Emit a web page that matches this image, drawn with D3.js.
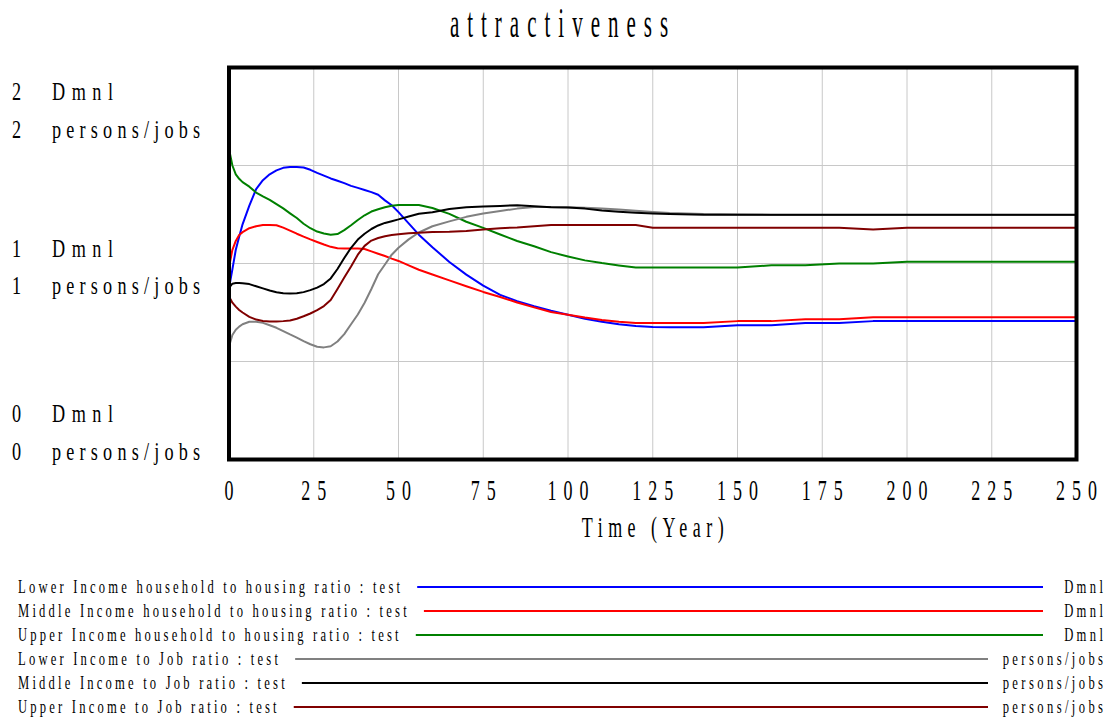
<!DOCTYPE html>
<html>
<head>
<meta charset="utf-8">
<script src="https://cdn.jsdelivr.net/npm/d3@7"></script>
<style>
  html, body { margin: 0; padding: 0; background: #fff; }
  svg { display: block; }
</style>
</head>
<body>
<svg id="chart" width="1107" height="719"></svg>
<script>
// ---------------- data ----------------
const chartTitle = "attractiveness";
const xAxisTitle = "Time (Year)";
const years = [0,1,2,3,4,6,8,10,12,14,16,18,20,22,24,26,28,30,32,34,36,38,40,42,44,46,48,50,53,56,60,65,70,75,80,85,90,95,100,105,110,115,120,125,130,140,150,160,170,180,190,200,210,220,230,240,250];

const lowerIncomeHousing = [0.875,0.97,1.07,1.136,1.2, 1.295,1.38,1.425,1.455,1.475,1.488,1.492,1.492, 1.49,1.478,1.462,1.448,1.434, 1.422,1.41,1.396,1.386,1.375, 1.364,1.351,1.322,1.297,1.262, 1.205,1.147,1.083,1.008,0.943, 0.887,0.84,0.808,0.782,0.759, 0.739,0.718,0.703,0.69,0.681, 0.676,0.675,0.675,0.685,0.685, 0.696,0.696,0.706,0.706,0.706, 0.706,0.706,0.706,0.706];
const middleIncomeHousing = [0.98,1.07,1.115,1.145,1.16, 1.18,1.19,1.196,1.197,1.195,1.183,1.168,1.152, 1.137,1.123,1.11,1.097,1.085, 1.078,1.077,1.077,1.077,1.074, 1.062,1.05,1.038,1.025,1.013, 0.99,0.968,0.944,0.914,0.884, 0.855,0.829,0.801,0.776,0.753, 0.738,0.724,0.712,0.703,0.696, 0.696,0.696,0.696,0.706,0.706, 0.716,0.716,0.726,0.726,0.726, 0.726,0.726,0.726,0.726];
const upperIncomeHousing = [1.585,1.5,1.455,1.432,1.415, 1.392,1.362,1.343,1.325,1.303,1.281,1.256,1.232, 1.203,1.18,1.163,1.153,1.147, 1.15,1.17,1.195,1.222,1.246, 1.265,1.277,1.287,1.295,1.298, 1.298,1.298,1.283,1.253,1.213, 1.182,1.148,1.115,1.088,1.058, 1.036,1.016,1.002,0.99,0.979, 0.979,0.979,0.979,0.979,0.991, 0.991,1.0,1.0,1.009,1.009, 1.009,1.009,1.009,1.009];
const lowerIncomeJob = [0.577,0.635,0.662,0.678,0.69, 0.703,0.703,0.697,0.685,0.672,0.655,0.638,0.622, 0.604,0.588,0.575,0.572,0.578, 0.602,0.64,0.69,0.74,0.8, 0.87,0.945,0.995,1.045,1.08, 1.123,1.158,1.19,1.215,1.238, 1.255,1.268,1.28,1.288,1.288, 1.287,1.285,1.28,1.275,1.269, 1.263,1.258,1.252,1.25,1.248, 1.247,1.247,1.247,1.247,1.247, 1.247,1.247,1.247,1.247];
const middleIncomeJob = [0.875,0.897,0.9,0.9,0.899, 0.895,0.884,0.873,0.862,0.853,0.848,0.847,0.848, 0.854,0.864,0.877,0.895,0.924, 0.972,1.028,1.08,1.122,1.152, 1.176,1.194,1.207,1.216,1.225, 1.24,1.254,1.262,1.278,1.287, 1.291,1.294,1.297,1.292,1.287, 1.286,1.28,1.27,1.264,1.259, 1.255,1.252,1.249,1.249,1.249, 1.249,1.249,1.249,1.249,1.249, 1.249,1.249,1.249,1.249];
const upperIncomeJob = [0.832,0.8,0.78,0.763,0.75, 0.728,0.714,0.707,0.704,0.704,0.706,0.709,0.718, 0.731,0.745,0.762,0.783,0.814, 0.87,0.928,0.985,1.045,1.09, 1.117,1.13,1.139,1.145,1.149, 1.154,1.157,1.161,1.162,1.166, 1.173,1.18,1.184,1.19,1.196, 1.196,1.196,1.196,1.196,1.196, 1.182,1.182,1.182,1.182,1.182, 1.182,1.182,1.174,1.182,1.182, 1.182,1.182,1.182,1.182];

const seriesNames = [
  "Lower Income household to housing ratio : test",
  "Middle Income household to housing ratio : test",
  "Upper Income household to housing ratio : test",
  "Lower Income to Job ratio : test",
  "Middle Income to Job ratio : test",
  "Upper Income to Job ratio : test"
];
const seriesUnits = ["Dmnl","Dmnl","Dmnl","persons/jobs","persons/jobs","persons/jobs"];
const seriesValues = [lowerIncomeHousing, middleIncomeHousing, upperIncomeHousing, lowerIncomeJob, middleIncomeJob, upperIncomeJob];
const xTicks = [0,25,50,75,100,125,150,175,200,225,250];
const yTicks = [0,1,2];
const yUnitLabels = ["Dmnl","persons/jobs"];

// ---------------- styles / layout ----------------
const colors = ["#0000ff","#ff0000","#008000","#808080","#000000","#800000"];
const FONT = "'Liberation Serif','Times New Roman',serif";
const svg = d3.select("#chart");
svg.append("rect").attr("width",1107).attr("height",719).attr("fill","#fff");

const plot = {left: 229, right: 1076.5, top: 67.5, bottom: 459.5};
const x = d3.scaleLinear().domain([0,250]).range([plot.left, plot.right]);
const y = d3.scaleLinear().domain([0,2]).range([plot.bottom, plot.top]);

function txt(sel, px, py, s, o) {
  let dx = 0;
  if (o.anchor === "middle") dx = o.ls/2;
  if (o.anchor === "end") dx = o.ls;
  return sel.append("text")
    .attr("transform", `translate(${px+dx},${py}) scale(${o.sx},1)`)
    .attr("text-anchor", o.anchor || "start")
    .attr("font-family", FONT)
    .attr("font-size", o.size)
    .attr("letter-spacing", o.ls / o.sx)
    .attr("fill", "#000")
    .text(s);
}

// title
txt(svg, 559, 37, chartTitle, {size: 42, sx: 0.5, ls: 8, anchor: "middle"});

// gridlines
const grid = svg.append("g");
grid.selectAll("line.v").data(xTicks.slice(1,-1)).join("line")
  .attr("x1", d => x(d)).attr("x2", d => x(d))
  .attr("y1", plot.top).attr("y2", plot.bottom)
  .attr("stroke", "#c8c8c8").attr("stroke-width", 1);
grid.selectAll("line.h").data([0.5,1,1.5]).join("line")
  .attr("y1", d => y(d)).attr("y2", d => y(d))
  .attr("x1", plot.left).attr("x2", plot.right)
  .attr("stroke", "#c8c8c8").attr("stroke-width", 1);

// series lines
svg.append("clipPath").attr("id","clip").append("rect")
  .attr("x", plot.left).attr("y", plot.top)
  .attr("width", plot.right - plot.left).attr("height", plot.bottom - plot.top);
const line = d3.line().x((d,i) => x(years[i])).y(d => y(d));
const lines = svg.append("g").attr("clip-path","url(#clip)");
seriesValues.forEach((vals, k) => {
  lines.append("path").datum(vals)
    .attr("d", line).attr("fill","none")
    .attr("stroke", colors[k]).attr("stroke-width", 2)
    .attr("stroke-linejoin","round");
});

// frame
svg.append("rect")
  .attr("x", plot.left).attr("y", plot.top)
  .attr("width", plot.right - plot.left).attr("height", plot.bottom - plot.top)
  .attr("fill","none").attr("stroke","#000").attr("stroke-width", 4);

// x axis tick labels
const xAxisG = svg.append("g");
xTicks.forEach(t => {
  txt(xAxisG, x(t), 500, String(t), {size: 30, sx: 0.6, ls: 7, anchor: "middle"});
});
txt(svg, (plot.left+plot.right)/2, 537, xAxisTitle, {size: 30, sx: 0.6, ls: 5.5, anchor: "middle"});

// y axis labels (two unit lines per tick)
const yOffsets = {2: [32, 70.5], 1: [-7, 30.5], 0: [-38, 0.5]};
yTicks.forEach(v => {
  yUnitLabels.forEach((u, j) => {
    const by = y(v) + yOffsets[v][j];
    txt(svg, 12, by, String(v), {size: 26, sx: 0.7, ls: 0, anchor: "start"});
    txt(svg, 52, by, u, {size: 26, sx: 0.7, ls: u === "Dmnl" ? 6.5 : 5.2, anchor: "start"});
  });
});

// legend
const legend = svg.append("g");
const legendLineEnd = {"Dmnl": 1043, "persons/jobs": 988};
seriesNames.forEach((name, k) => {
  const by = 593 + k*24;
  const t = txt(legend, 18, by, name, {size: 18, sx: 0.7, ls: 3.2, anchor: "start"});
  const r = t.node().getBoundingClientRect();
  legend.append("line")
    .attr("x1", r.right + 14).attr("x2", legendLineEnd[seriesUnits[k]])
    .attr("y1", by - 6).attr("y2", by - 6)
    .attr("stroke", colors[k]).attr("stroke-width", 2);
  txt(legend, 1103, by, seriesUnits[k], {size: 18, sx: 0.7, ls: 3.4, anchor: "end"});
});
</script>
</body>
</html>
